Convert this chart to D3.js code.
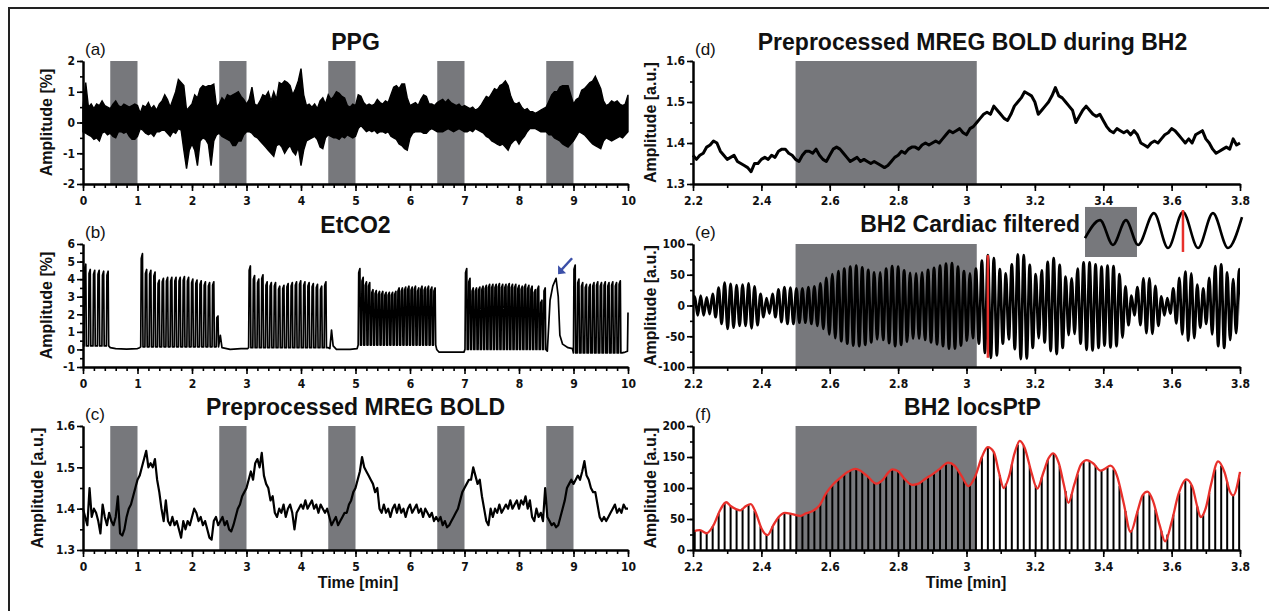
<!DOCTYPE html>
<html>
<head>
<meta charset="utf-8">
<script src="https://cdn.jsdelivr.net/npm/d3@7"></script>
<style>
  body { margin: 0; background: #fff; }
  svg { display: block; }
  .ax path.domain { stroke: #000; stroke-width: 2; }
  .ax line { stroke: #000; stroke-width: 1.6; }
  .tick text { font-family: "Liberation Sans Narrow", "DejaVu Sans Condensed", "Liberation Sans", sans-serif; font-weight: bold; font-size: 12px; fill: #111; }
  .title { font-family: "Liberation Sans", Arial, sans-serif; font-weight: bold; font-size: 23px; fill: #111; }
  .ylab, .xlab { font-family: "Liberation Sans", Arial, sans-serif; font-weight: bold; font-size: 16px; fill: #111; }
  .plab { font-family: "Liberation Sans", Arial, sans-serif; font-size: 17px; fill: #111; }
</style>
</head>
<body>
<svg id="fig" width="1269" height="611"></svg>
<script>
// ---------- axis ticks ----------
const ticksMin = [0, 1, 2, 3, 4, 5, 6, 7, 8, 9, 10];
const ticksZoom = [2.2, 2.4, 2.6, 2.8, 3.0, 3.2, 3.4, 3.6, 3.8];
const ticksPPG = [-2, -1, 0, 1, 2];
const ticksCO2 = [-1, 0, 1, 2, 3, 4, 5, 6];
const ticksBOLD = [1.3, 1.4, 1.5, 1.6];
const ticksCard = [-100, -50, 0, 50, 100];
const ticksPtP = [0, 50, 100, 150, 200];

// breath-hold intervals [start, end] in minutes
const holdsAll = [[0.5, 1.0], [2.5, 3.0], [4.5, 5.0], [6.5, 7.0], [8.5, 9.0]];
const holdBH2 = [[2.5, 3.03]];

// ---------- (a) PPG: upper / lower edge of the dense trace, one sample per 0.05 min ----------
const ppgStep = 0.05;
const ppgUpper = [
  0.5,1.3,0.5,0.6,0.45,0.6,0.55,0.7,0.55,0.5,0.45,0.6,0.7,0.55,0.5,0.6,0.55,0.5,0.55,0.6,
  0.55,0.3,0.55,0.5,0.65,0.45,0.55,0.4,0.6,0.7,0.9,0.75,0.5,0.75,1.0,1.4,1.3,1.2,0.4,0.5,
  0.6,0.9,0.8,1.1,1.2,1.15,1.2,1.2,1.25,0.5,0.6,0.8,0.7,0.9,0.85,0.9,0.95,1.0,0.85,0.75,
  0.6,0.75,1.15,0.6,0.55,0.7,0.9,0.85,1.0,0.7,1.0,0.75,1.3,1.25,1.35,1.3,1.2,0.9,1.1,1.35,
  1.75,0.9,0.55,0.6,0.5,0.6,0.45,0.7,0.8,0.6,0.9,0.75,0.85,1.0,0.95,0.85,0.8,0.55,0.5,0.6,
  0.55,0.9,0.85,0.65,0.55,0.6,0.55,0.6,0.75,0.65,0.6,0.7,0.65,0.9,1.15,1.2,1.1,1.25,1.25,0.8,
  0.55,0.6,0.65,0.55,0.75,0.9,0.85,0.6,0.6,0.55,0.65,0.7,0.75,0.65,0.75,0.65,0.6,0.55,0.6,0.5,
  0.55,0.5,0.45,0.5,0.4,0.45,0.55,0.7,0.85,0.8,0.95,1.1,1.05,1.2,1.25,1.35,1.2,0.85,0.65,0.6,
  0.65,0.5,0.4,0.45,0.35,0.35,0.3,0.35,0.4,0.45,0.5,0.7,0.9,1.0,1.0,1.15,1.2,1.2,1.2,0.9,
  0.6,0.75,0.8,1.05,1.1,1.2,1.3,1.35,1.5,1.3,1.1,0.7,0.55,0.6,0.7,0.65,0.7,0.6,0.55,0.6,
  0.9
];
const ppgLower = [
  -0.3,-0.35,-0.4,-0.45,-0.55,-0.5,-0.6,-0.35,-0.3,-0.4,-0.35,-0.45,-0.5,-0.3,-0.3,-0.35,-0.3,-0.45,-0.55,-0.55,
  -0.45,-0.2,-0.25,-0.35,-0.4,-0.35,-0.45,-0.3,-0.3,-0.25,-0.25,-0.35,-0.45,-0.3,-0.35,-0.2,-0.25,-0.9,-1.5,-0.9,
  -0.7,-0.9,-1.4,-0.6,-0.5,-0.55,-0.7,-1.4,-0.6,-0.4,-0.35,-0.45,-0.5,-0.55,-0.6,-0.75,-0.75,-0.6,-0.6,-0.4,
  -0.3,-0.3,-0.35,-0.45,-0.5,-0.6,-0.7,-0.8,-0.9,-1.0,-1.1,-0.75,-0.7,-0.8,-1.0,-0.85,-0.75,-0.95,-1.05,-0.8,
  -1.4,-0.9,-0.6,-0.55,-0.5,-0.45,-0.55,-0.8,-0.85,-0.5,-0.4,-0.45,-0.5,-0.5,-0.55,-0.45,-0.5,-0.4,-0.45,-0.5,
  -0.45,-0.2,-0.1,-0.2,-0.3,-0.25,-0.3,-0.25,-0.35,-0.3,-0.3,-0.35,-0.3,-0.45,-0.5,-0.55,-0.7,-0.75,-0.85,-0.9,
  -0.5,-0.35,-0.3,-0.3,-0.3,-0.35,-0.35,-0.25,-0.2,-0.25,-0.3,-0.3,-0.3,-0.25,-0.2,-0.25,-0.3,-0.25,-0.2,-0.25,
  -0.3,-0.3,-0.25,-0.3,-0.2,-0.25,-0.3,-0.35,-0.45,-0.5,-0.6,-0.65,-0.7,-0.75,-0.7,-0.8,-0.9,-0.7,-0.6,-0.55,
  -0.7,-0.55,-0.45,-0.3,-0.2,-0.2,-0.2,-0.25,-0.3,-0.3,-0.3,-0.4,-0.4,-0.5,-0.55,-0.6,-0.7,-0.75,-0.8,-0.7,
  -0.6,-0.45,-0.3,-0.35,-0.4,-0.5,-0.6,-0.7,-0.75,-0.8,-0.85,-0.6,-0.5,-0.55,-0.6,-0.55,-0.5,-0.45,-0.5,-0.4,
  -0.3
];

// ---------- (b) EtCO2: end-tidal peak of every breath, grouped in breathing blocks ----------
const co2BlockStart = [0.04, 1.08, 3.06, 5.07, 7.03, 9.02];
const co2BlockStep  = [0.082, 0.077, 0.077, 0.06, 0.06, 0.069];
const co2BlockFloor = [0.2, 0.15, 0.1, 0.25, 0.0, -0.2];
const co2Peaks1 = [4.85,4.55,4.5,4.5,4.45,4.45];
const co2Peaks2 = [5.45,4.55,4.5,4.4,3.95,4.05,4.1,4.1,4.1,4.1,4.15,4.1,4.0,3.95,3.9,3.85,3.8,3.85,1.9];
const co2Peaks3 = [4.75,4.2,4.0,4.25,3.85,3.8,3.8,3.6,3.65,3.75,3.8,3.85,3.9,3.85,3.8,3.75,3.7,3.6,3.85];
const co2Peaks4 = [4.6,4.1,3.85,3.8,3.4,3.35,3.3,3.3,3.25,3.25,3.25,3.3,3.5,3.5,3.55,3.6,3.55,3.6,3.5,3.6,3.55,3.6,3.55,3.5];
const co2Peaks5 = [4.6,4.05,3.5,3.5,3.55,3.6,3.65,3.7,3.7,3.7,3.75,3.7,3.7,3.75,3.7,3.7,3.65,3.6,3.7,3.65,3.6,3.4,3.6,2.8,3.5];
const co2Peaks6 = [4.8,4.0,3.8,3.7,3.7,3.8,3.85,3.8,3.85,3.8,3.85,3.8,3.9];
// trace between the blocks (holds, the long breath at 8.7 min, end of record)
const co2RestT = [0.0, 0.50,0.6,0.8,1.0,1.04, 2.52,2.55,2.7,2.9,3.02, 4.50,4.53,4.56,4.59,4.65,4.9,5.03,
                  6.49,6.53,6.8,6.99, 8.52,8.57,8.62,8.68,8.72,8.75,8.8,8.9,8.98, 9.89,9.95,9.99,10.0];
const co2RestV = [0.3, 0.1,0.05,0.02,0.05,0.1, 0.8,0.1,0.0,0.05,0.05, 0.1,0.05,1.1,0.2,0.0,0.0,0.05,
                  0.0,-0.15,-0.15,-0.15, -0.1,2.8,3.6,4.05,3.0,0.8,0.3,0.1,0.05, -0.2,-0.15,-0.1,2.1];

// ---------- (c) preprocessed MREG BOLD, one sample per 0.04 min ----------
const boldStep = 0.04;
const boldFull = [
  1.40,1.38,1.36,1.45,1.38,1.40,1.39,1.37,1.34,1.41,1.38,1.36,1.39,1.37,1.36,1.38,1.43,1.34,1.335,1.35,1.38,1.40,1.41,1.43,1.45,
  1.47,1.48,1.50,1.52,1.54,1.50,1.51,1.50,1.52,1.47,1.44,1.40,1.37,1.42,1.37,1.36,1.38,1.36,1.37,1.35,1.33,1.37,1.35,1.37,1.36,
  1.38,1.40,1.39,1.37,1.38,1.36,1.37,1.35,1.33,1.325,1.37,1.38,1.36,1.37,1.38,1.36,1.37,1.35,1.345,1.36,1.38,1.40,1.41,1.43,1.44,
  1.45,1.47,1.49,1.47,1.51,1.52,1.50,1.535,1.48,1.46,1.45,1.42,1.43,1.39,1.38,1.40,1.39,1.41,1.38,1.40,1.41,1.39,1.35,1.39,1.40,
  1.41,1.40,1.42,1.40,1.41,1.42,1.40,1.41,1.39,1.41,1.40,1.39,1.40,1.38,1.36,1.37,1.38,1.36,1.37,1.38,1.39,1.39,1.41,1.42,1.44,
  1.45,1.47,1.49,1.525,1.50,1.49,1.48,1.47,1.46,1.44,1.45,1.40,1.39,1.41,1.39,1.40,1.38,1.40,1.41,1.39,1.41,1.39,1.40,1.38,1.40,
  1.41,1.39,1.40,1.41,1.39,1.40,1.38,1.40,1.39,1.38,1.39,1.37,1.38,1.37,1.38,1.36,1.37,1.355,1.36,1.37,1.38,1.39,1.40,1.42,1.44,
  1.45,1.46,1.47,1.47,1.50,1.48,1.46,1.47,1.43,1.40,1.37,1.36,1.40,1.38,1.40,1.39,1.41,1.39,1.40,1.41,1.40,1.42,1.40,1.41,1.42,
  1.40,1.42,1.41,1.43,1.40,1.42,1.38,1.37,1.40,1.38,1.39,1.37,1.45,1.38,1.37,1.36,1.365,1.355,1.36,1.38,1.40,1.42,1.45,1.46,1.47,
  1.46,1.47,1.48,1.47,1.49,1.515,1.48,1.47,1.45,1.44,1.44,1.41,1.38,1.37,1.38,1.37,1.38,1.39,1.40,1.41,1.39,1.40,1.39,1.41,1.40,
  1.40
];

// ---------- (d) BOLD during BH2, 2.2-3.8 min, one sample per 0.01 min ----------
const bh2Start = 2.2, bh2Step = 0.01;
const boldBH2 = [
  1.37,1.36,1.37,1.375,1.39,1.395,1.405,1.40,1.38,1.37,
  1.36,1.365,1.37,1.355,1.35,1.345,1.34,1.33,1.35,1.35,
  1.36,1.365,1.36,1.37,1.365,1.38,1.385,1.385,1.375,1.37,
  1.36,1.355,1.37,1.38,1.38,1.375,1.385,1.37,1.36,1.355,
  1.37,1.385,1.39,1.385,1.375,1.365,1.355,1.36,1.365,1.355,
  1.36,1.355,1.35,1.355,1.35,1.345,1.34,1.345,1.355,1.365,
  1.37,1.38,1.375,1.385,1.39,1.39,1.385,1.395,1.40,1.395,
  1.40,1.405,1.40,1.41,1.42,1.43,1.425,1.43,1.435,1.425,
  1.42,1.435,1.44,1.45,1.46,1.47,1.475,1.47,1.49,1.48,
  1.47,1.46,1.455,1.47,1.49,1.50,1.51,1.525,1.52,1.515,
  1.50,1.47,1.48,1.49,1.50,1.515,1.535,1.515,1.51,1.50,
  1.49,1.48,1.45,1.465,1.48,1.49,1.48,1.47,1.465,1.47,
  1.455,1.44,1.43,1.425,1.435,1.43,1.425,1.43,1.42,1.43,
  1.42,1.40,1.395,1.39,1.40,1.405,1.40,1.41,1.42,1.425,
  1.435,1.43,1.42,1.41,1.40,1.41,1.40,1.42,1.425,1.43,
  1.41,1.40,1.385,1.375,1.38,1.385,1.39,1.385,1.41,1.395,
  1.40
];

// ---------- (e)/(f) cardiac band, one entry per heartbeat ----------
const beatStart = 2.205, beatStep = 0.0175;
const cardiacHigh = [
  15,16,13,19,29,37,35,33,34,36,31,19,12,19,26,30,29,28,28,30,
  31,36,45,51,56,60,63,65,62,58,54,54,60,64,63,57,53,52,54,58,
  61,65,68,69,63,56,52,60,73,82,77,59,52,67,83,82,66,51,57,71,
  77,66,47,44,60,70,70,67,63,65,64,51,31,16,30,44,44,32,15,12,
  28,45,55,52,34,28,45,64,67,54,43,59
];
const cardiacLow = [
  -16,-16,-14,-19,-30,-38,-36,-33,-33,-37,-32,-19,-13,-19,-27,-30,-30,-28,-28,-30,
  -33,-38,-47,-53,-58,-62,-65,-66,-64,-60,-55,-56,-61,-66,-64,-59,-54,-54,-56,-60,
  -63,-66,-70,-70,-65,-57,-53,-62,-77,-85,-81,-62,-55,-71,-87,-86,-69,-53,-60,-74,
  -79,-69,-48,-46,-62,-72,-73,-69,-65,-68,-66,-52,-32,-16,-32,-45,-46,-33,-16,-13,
  -29,-47,-57,-53,-36,-30,-47,-66,-69,-56,-45,-61
];
const locsPtP = [
  31,32,27,38,59,75,71,66,67,73,63,38,25,38,53,60,59,56,56,60,
  64,74,92,104,114,122,128,131,126,118,109,110,121,130,127,116,107,106,110,118,
  124,131,138,139,128,113,105,122,150,166,158,121,107,138,170,168,135,104,117,145,
  156,135,95,90,122,142,143,136,128,133,130,103,63,32,62,89,90,65,31,25,
  57,92,112,105,70,58,92,130,136,110,88,120
];
const markedBeat = 49;
// smoothed peak-to-peak envelope
const envT = [2.20,2.22,2.24,2.26,2.28,2.297,2.31,2.338,2.355,2.369,2.385,2.40,2.418,2.435,2.45,2.469,2.49,2.514,2.53,2.55,
  2.57,2.59,2.61,2.63,2.65,2.675,2.69,2.71,2.736,2.755,2.77,2.783,2.80,2.82,2.842,2.86,2.88,2.90,2.92,2.947,
  2.965,2.985,3.006,3.025,3.045,3.062,3.08,3.095,3.109,3.125,3.14,3.156,3.17,3.19,3.207,3.225,3.24,3.254,3.27,3.285,
  3.298,3.315,3.335,3.352,3.37,3.392,3.405,3.421,3.44,3.46,3.48,3.50,3.515,3.529,3.545,3.565,3.581,3.60,3.62,3.643,
  3.66,3.675,3.685,3.70,3.715,3.736,3.755,3.77,3.78,3.80];
const envV = [30,32,27,40,65,77,71,64,71,74,58,35,24,40,53,60,58,55,59,63,
  72,92,106,116,125,131,128,119,107,113,124,130,127,114,105,107,115,122,130,141,
  136,120,103,118,150,166,158,125,100,120,155,176,165,125,99,125,148,156,140,105,
  76,105,138,145,140,128,131,136,120,75,29,62,88,94,80,40,14,45,90,114,
  103,70,53,68,105,143,125,95,88,126];

// schematic of a few cardiac cycles (normalised units)
const insetT = [0, 0.096, 0.178, 0.261, 0.338, 0.439, 0.529, 0.624, 0.72, 0.815, 0.911, 1.0];
const insetV = [-0.45, 0.55, -0.83, 0.55, -0.83, 0.94, -1, 1, -1, 0.94, -1, 0.72];
const insetHold = [0, 0.331];
const insetMark = 0.624;

// ---------- drawing ----------
const GRAY = "#77787c", RED = "#e8302b";
const svg = d3.select("#fig");

svg.append("line").attr("x1", 8).attr("x2", 1269).attr("y1", 8).attr("y2", 8).attr("stroke", "#222").attr("stroke-width", 2);
svg.append("line").attr("x1", 9).attr("x2", 9).attr("y1", 8).attr("y2", 611).attr("stroke", "#222").attr("stroke-width", 2);

// pixel [bottom, top] of each row of plots
const rows = [[184, 61], [367, 244], [550, 426]];
const xL = d3.scaleLinear([0, 10], [83, 628]);
const xR = d3.scaleLinear([2.2, 3.8], [693, 1240]);
const fmtPlain = d => String(d);
const fmtDec = d => d3.format(".1f")(d);
const fmtZoom = d => String(+d.toFixed(1));
const minorL = d3.range(0, 10.001, 0.2);
const minorR = d3.range(2.2, 3.8001, 0.1);

function axes(g, x, y, xMajor, xMinor, xFmt, yMajor, yMinor, yFmt) {
  const x0 = x.range()[0], yb = y.range()[0];
  g.append("g").attr("class", "ax").attr("transform", `translate(0,${yb})`)
    .call(d3.axisBottom(x).tickValues(xMinor).tickSize(4).tickFormat("").tickSizeOuter(0));
  g.append("g").attr("class", "ax").attr("transform", `translate(0,${yb})`)
    .call(d3.axisBottom(x).tickValues(xMajor).tickSize(7).tickPadding(5).tickFormat(xFmt).tickSizeOuter(0));
  g.append("g").attr("class", "ax").attr("transform", `translate(${x0},0)`)
    .call(d3.axisLeft(y).tickValues(yMinor).tickSize(3).tickFormat("").tickSizeOuter(0));
  g.append("g").attr("class", "ax").attr("transform", `translate(${x0},0)`)
    .call(d3.axisLeft(y).tickValues(yMajor).tickSize(6).tickPadding(2).tickFormat(yFmt).tickSizeOuter(0));
}
function bands(g, x, y, list) {
  g.append("g").selectAll("rect").data(list).join("rect")
    .attr("x", d => x(d[0])).attr("width", d => x(d[1]) - x(d[0]))
    .attr("y", y.range()[1]).attr("height", y.range()[0] - y.range()[1])
    .attr("fill", GRAY);
}
function labels(x, y, title, tag, ylab, ylabX, titleDx = 0) {
  const xm = (x.range()[0] + x.range()[1]) / 2;
  const top = y.range()[1], bot = y.range()[0];
  if (title) svg.append("text").attr("class", "title").attr("x", xm + titleDx).attr("y", top - 11)
    .attr("text-anchor", "middle").text(title);
  svg.append("text").attr("class", "plab").attr("x", x.range()[0] + 2).attr("y", top - 6).text(tag);
  svg.append("text").attr("class", "ylab").attr("text-anchor", "middle")
    .attr("transform", `translate(${ylabX},${(top + bot) / 2}) rotate(-90)`).text(ylab);
}
function clip(id, x, y) {
  svg.append("clipPath").attr("id", id).append("rect")
    .attr("x", x.range()[0]).attr("width", x.range()[1] - x.range()[0])
    .attr("y", y.range()[1] - 40).attr("height", y.range()[0] - y.range()[1] + 80);
  return `url(#${id})`;
}

// (a) PPG
{
  const y = d3.scaleLinear([-2, 2], rows[0]);
  const g = svg.append("g");
  bands(g, xL, y, holdsAll);
  const area = d3.area().x((d, i) => xL(i * ppgStep)).y0((d, i) => y(ppgLower[i])).y1(d => y(d));
  g.append("path").datum(ppgUpper).attr("d", area).attr("fill", "#000").attr("stroke", "#000")
    .attr("stroke-width", 1.4).attr("stroke-linejoin", "miter");
  axes(g, xL, y, ticksMin, minorL, fmtPlain, ticksPPG, d3.range(-2, 2.001, 0.5), fmtPlain);
  labels(xL, y, "PPG", "(a)", "Amplitude [%]", 52);
}

// (b) EtCO2
{
  const y = d3.scaleLinear([-1, 6], rows[1]);
  const g = svg.append("g");
  const blocks = [co2Peaks1, co2Peaks2, co2Peaks3, co2Peaks4, co2Peaks5, co2Peaks6];
  const pts = co2RestT.map((t, i) => [t, co2RestV[i]]);
  blocks.forEach((peaks, b) => {
    const f = co2BlockFloor[b];
    peaks.forEach((p, k) => {
      const t = co2BlockStart[b] + k * co2BlockStep[b];
      pts.push([t - 0.021, f], [t - 0.011, p * 0.95], [t + 0.011, p], [t + 0.021, f]);
    });
  });
  pts.sort((a, b) => a[0] - b[0]);
  const line = d3.line().x(d => xL(d[0])).y(d => y(d[1]));
  g.append("path").datum(pts).attr("d", line).attr("fill", "none").attr("stroke", "#000")
    .attr("stroke-width", 1.7).attr("stroke-linejoin", "round");
  axes(g, xL, y, ticksMin, minorL, fmtPlain, ticksCO2, d3.range(-1, 6.001, 0.5), fmtPlain);
  labels(xL, y, "EtCO2", "(b)", "Amplitude [%]", 52);
  // arrow pointing at the long breath
  const ax = xL(8.68), ay = y(4.05);
  svg.append("line").attr("x1", ax + 16).attr("y1", ay - 20).attr("x2", ax + 5).attr("y2", ay - 8)
    .attr("stroke", "#3b4fa8").attr("stroke-width", 2.5);
  svg.append("path").attr("d", `M${ax + 2},${ay - 4} l0,-9 l8,8 z`).attr("fill", "#3b4fa8");
}

// (c) preprocessed BOLD
{
  const y = d3.scaleLinear([1.3, 1.6], rows[2]);
  const g = svg.append("g");
  bands(g, xL, y, holdsAll);
  const line = d3.line().x((d, i) => xL(i * boldStep)).y(d => y(d));
  g.append("path").datum(boldFull).attr("d", line).attr("fill", "none").attr("stroke", "#000")
    .attr("stroke-width", 2.2).attr("stroke-linejoin", "round");
  axes(g, xL, y, ticksMin, minorL, fmtPlain, ticksBOLD, d3.range(1.3, 1.6001, 0.05), fmtDec);
  labels(xL, y, "Preprocessed MREG BOLD", "(c)", "Amplitude [a.u.]", 43);
  svg.append("text").attr("class", "xlab").attr("x", 358).attr("y", 588).attr("text-anchor", "middle").text("Time [min]");
}

// (d) BOLD during BH2
{
  const y = d3.scaleLinear([1.3, 1.6], rows[0]);
  const g = svg.append("g");
  bands(g, xR, y, holdBH2);
  const line = d3.line().x((d, i) => xR(bh2Start + i * bh2Step)).y(d => y(d));
  g.append("path").datum(boldBH2).attr("d", line).attr("fill", "none").attr("stroke", "#000")
    .attr("stroke-width", 3).attr("stroke-linejoin", "round");
  axes(g, xR, y, ticksZoom, minorR, fmtZoom, ticksBOLD, d3.range(1.3, 1.6001, 0.05), fmtDec);
  labels(xR, y, "Preprocessed MREG BOLD during BH2", "(d)", "Amplitude [a.u.]", 656, 6);
}

// (e) cardiac filtered
{
  const y = d3.scaleLinear([-100, 100], rows[1]);
  const g = svg.append("g");
  bands(g, xR, y, holdBH2);
  const pts = [];
  cardiacHigh.forEach((h, i) => {
    const t = beatStart + i * beatStep;
    pts.push([t, h], [t + beatStep / 2, cardiacLow[i]]);
  });
  pts.unshift([2.2, 0]);
  const line = d3.line().x(d => xR(d[0])).y(d => y(d[1])).curve(d3.curveMonotoneX);
  g.append("path").datum(pts).attr("d", line).attr("fill", "none").attr("stroke", "#000")
    .attr("stroke-width", 2.8).attr("clip-path", clip("clipE", xR, y));
  const tm = beatStart + markedBeat * beatStep;
  g.append("line").attr("x1", xR(tm)).attr("x2", xR(tm))
    .attr("y1", y(cardiacLow[markedBeat])).attr("y2", y(cardiacHigh[markedBeat]))
    .attr("stroke", RED).attr("stroke-width", 2.5);
  axes(g, xR, y, ticksZoom, minorR, fmtZoom, ticksCard, d3.range(-100, 100.001, 25), fmtPlain);
  labels(xR, y, null, "(e)", "Amplitude [a.u.]", 656);
  svg.append("text").attr("class", "title").attr("x", 1080).attr("y", rows[1][1] - 12)
    .attr("text-anchor", "end").text("BH2 Cardiac filtered");

  // inset: a few cycles around the marked beat
  const ix = d3.scaleLinear([0, 1], [1085, 1242]);
  const iy = d3.scaleLinear([-1, 1], [248, 212]);
  svg.append("rect").attr("x", ix(insetHold[0])).attr("width", ix(insetHold[1]) - ix(insetHold[0]))
    .attr("y", iy(1.28)).attr("height", iy(-1.5) - iy(1.28)).attr("fill", GRAY);
  svg.append("path").datum(insetT.map((t, i) => [t, insetV[i]]))
    .attr("d", d3.line().x(d => ix(d[0])).y(d => iy(d[1])).curve(d3.curveMonotoneX))
    .attr("fill", "none").attr("stroke", "#000").attr("stroke-width", 2.6);
  svg.append("line").attr("x1", ix(insetMark)).attr("x2", ix(insetMark)).attr("y1", iy(-1.22)).attr("y2", iy(1.11))
    .attr("stroke", RED).attr("stroke-width", 2.5);
}

// (f) local peak-to-peak
{
  const y = d3.scaleLinear([0, 200], rows[2]);
  const g = svg.append("g");
  bands(g, xR, y, holdBH2);
  g.append("g").selectAll("line").data(locsPtP).join("line")
    .attr("x1", (d, i) => xR(beatStart + i * beatStep)).attr("x2", (d, i) => xR(beatStart + i * beatStep))
    .attr("y1", y(0)).attr("y2", d => y(d)).attr("stroke", "#000").attr("stroke-width", 2);
  const line = d3.line().x((d, i) => xR(envT[i])).y(d => y(d)).curve(d3.curveMonotoneX);
  g.append("path").datum(envV).attr("d", line).attr("fill", "none").attr("stroke", RED).attr("stroke-width", 2.3);
  axes(g, xR, y, ticksZoom, minorR, fmtZoom, ticksPtP, d3.range(0, 200.001, 25), fmtPlain);
  labels(xR, y, "BH2 locsPtP", "(f)", "Amplitude [a.u.]", 656, 6);
  svg.append("text").attr("class", "xlab").attr("x", 966).attr("y", 588).attr("text-anchor", "middle").text("Time [min]");
}
</script>
